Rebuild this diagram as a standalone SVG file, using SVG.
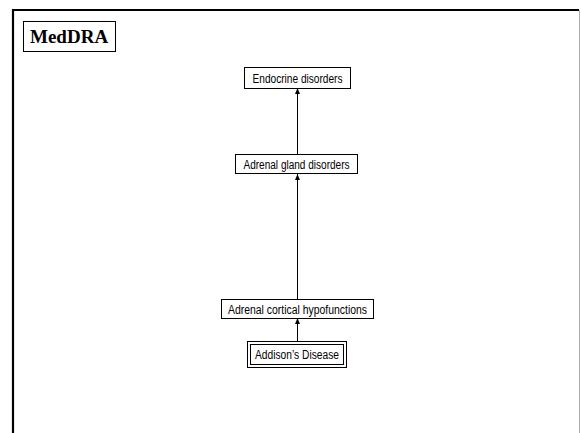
<svg xmlns="http://www.w3.org/2000/svg" width="581" height="433" viewBox="0 0 581 433">
  <style>
    .box { fill: #fff; stroke: #000; stroke-width: 1; }
    .lbl { font-family: "Liberation Sans Narrow", "Arial Narrow", "Liberation Sans", Arial, sans-serif; font-size: 12.5px; fill: #000; text-anchor: middle; }
    .title { font-family: "Liberation Serif", "Times New Roman", serif; font-size: 19px; font-weight: bold; fill: #000; }
    .edge { stroke: #000; stroke-width: 1; fill: none; marker-end: url(#arrow); }
  </style>
  <defs>
    <marker id="arrow" viewBox="0 0 6 6" refX="6" refY="3" markerWidth="6" markerHeight="6" markerUnits="userSpaceOnUse" orient="auto">
      <path d="M0,0.5 L6,3 L0,5.5 Z" fill="#000"/>
    </marker>
  </defs>

  <rect width="581" height="433" fill="#fff"/>

  <!-- slide frame -->
  <g id="frame">
    <path d="M13,433 V10 H579" fill="none" stroke="#000" stroke-width="2.2"/>
    <line x1="579.5" y1="10" x2="579.5" y2="433" stroke="#b0b0b0" stroke-width="1"/>
  </g>

  <g id="title">
    <rect class="box" x="23.5" y="21.5" width="92" height="30"/>
    <text class="title" x="30" y="43">MedDRA</text>
  </g>

  <g id="connectors">
    <line class="edge" x1="297.5" y1="154" x2="297.5" y2="88"/>
    <line class="edge" x1="297.5" y1="299" x2="297.5" y2="174"/>
    <line class="edge" x1="297.5" y1="341" x2="297.5" y2="318"/>
  </g>

  <g id="soc">
    <rect class="box" x="244.5" y="67.5" width="106" height="21"/>
    <text class="lbl" x="297.5" y="82.5" textLength="90" lengthAdjust="spacingAndGlyphs">Endocrine disorders</text>
  </g>

  <g id="hlgt">
    <rect class="box" x="235.5" y="154.5" width="122" height="19"/>
    <text class="lbl" x="296.5" y="168.5" textLength="106" lengthAdjust="spacingAndGlyphs">Adrenal gland disorders</text>
  </g>

  <g id="hlt">
    <rect class="box" x="221.5" y="299.5" width="152" height="19"/>
    <text class="lbl" x="297.5" y="313.5" textLength="139" lengthAdjust="spacingAndGlyphs">Adrenal cortical hypofunctions</text>
  </g>

  <g id="pt">
    <rect class="box" x="247.5" y="341.5" width="99" height="26"/>
    <rect class="box" x="250.5" y="344.5" width="93" height="20"/>
    <text class="lbl" x="297" y="359" textLength="84" lengthAdjust="spacingAndGlyphs">Addison’s Disease</text>
  </g>
</svg>
